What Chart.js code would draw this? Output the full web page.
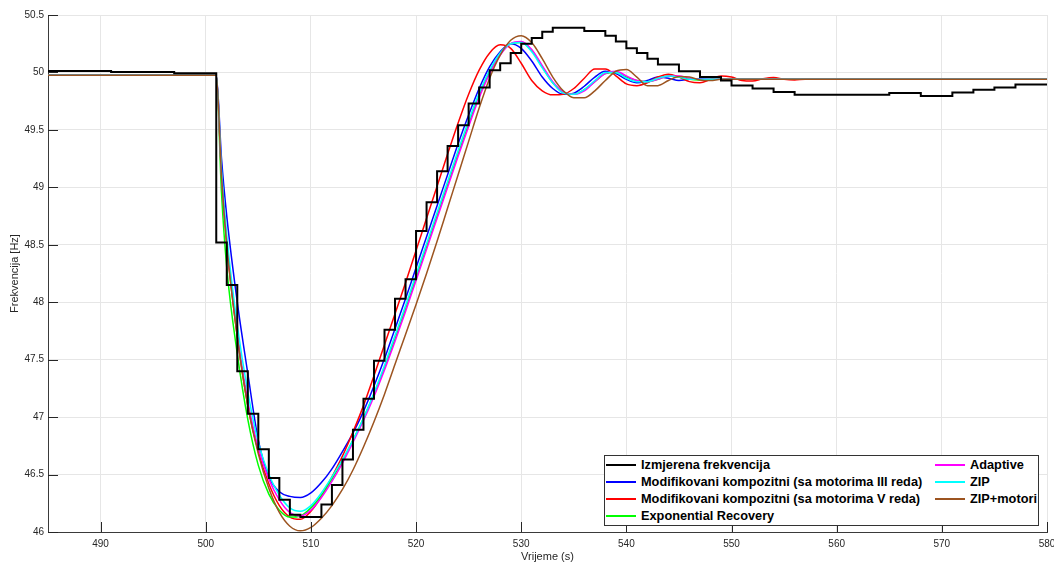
<!DOCTYPE html>
<html>
<head>
<meta charset="utf-8">
<script src="https://cdn.jsdelivr.net/npm/chart.js@4.4.1/dist/chart.umd.min.js"></script>
<style>
html,body{margin:0;padding:0;background:#fff;}
#wrap{position:relative;width:1054px;height:566px;overflow:hidden;background:#fff;}
#c{position:absolute;left:0;top:0;}
#legend{position:absolute;left:604px;top:455px;width:433px;height:69px;border:1px solid #333;background:#fff;}
.item{position:absolute;height:14px;font:bold 12.75px "Liberation Sans",Arial,sans-serif;color:#000;white-space:nowrap;}
.sw{position:absolute;left:0;width:30px;}
.tx{position:absolute;left:35px;top:0;line-height:14px;}
</style>
</head>
<body>
<div id="wrap">
<canvas id="c" width="1054" height="566"></canvas>
<div id="legend"></div>
</div>
<script>
// ---------- DATA ----------
const xTickValues = [490, 500, 510, 520, 530, 540, 550, 560, 570, 580];
const yTickValues = [46, 46.5, 47, 47.5, 48, 48.5, 49, 49.5, 50, 50.5];

const seriesLabels = [
  'Izmjerena frekvencija',
  'Modifikovani kompozitni (sa motorima III reda)',
  'Modifikovani kompozitni (sa motorima V reda)',
  'Exponential Recovery',
  'Adaptive',
  'ZIP',
  'ZIP+motori'
];
const seriesColors = ['#000000', '#0000ff', '#ff0000', '#00ff00', '#ff00ff', '#00ffff', '#9c5420'];

// measured frequency (step changes: value holds from time until next time)
const measTimes = [485, 491, 497,
  501, 502, 503, 504, 505, 506, 507, 508, 509,
  511, 512, 513, 514, 515, 516, 517, 518, 519, 520, 521, 522, 523, 524, 525, 526, 527, 528, 529, 530, 531, 532, 533,
  536, 538,
  539, 540, 541, 542, 543,
  545, 547, 549, 550, 552, 554, 556,
  565, 568, 571, 573, 575, 577, 580];
const measValues = [50.012, 50.004, 49.994,
  48.52, 48.15, 47.40, 47.03, 46.72, 46.47, 46.28, 46.15, 46.13,
  46.24, 46.41, 46.63, 46.89, 47.16, 47.49, 47.76, 48.03, 48.20, 48.62, 48.87, 49.14, 49.36, 49.54, 49.73, 49.87, 50.02, 50.08, 50.17, 50.25, 50.30, 50.355, 50.39,
  50.36, 50.32,
  50.27, 50.21, 50.17, 50.12, 50.07,
  50.01, 49.96, 49.93, 49.886, 49.86, 49.83, 49.805,
  49.82, 49.796, 49.825, 49.85, 49.87, 49.895, 49.895];

// simulated responses (common time grid)
const modelTimes = [485, 500, 501, 501.5, 502,
  503, 504, 505, 506, 507, 508, 509, 510, 511, 512,
  513, 514, 515, 516, 517, 518, 519, 520, 521, 522,
  523, 524, 525, 526, 527, 528, 529, 530, 531, 532,
  533, 534, 535, 536, 537, 538, 539, 540, 541, 542,
  543, 544, 545, 546, 547, 548, 549, 550, 551, 552,
  553, 554, 555, 556, 557, 558,
  580];

const modIII = [49.975, 49.975, 49.975, 49.25, 48.75,
  48.00, 47.38, 46.80, 46.48, 46.35, 46.31, 46.30, 46.34, 46.43, 46.55,
  46.70, 46.86, 47.05, 47.27, 47.51, 47.77, 48.03, 48.30, 48.57, 48.84,
  49.11, 49.38, 49.63, 49.86, 50.05, 50.18, 50.25, 50.21, 50.10, 49.96,
  49.86, 49.81, 49.82, 49.88, 49.96, 50.01, 49.99, 49.94, 49.91, 49.93,
  49.96, 49.95, 49.93, 49.94, 49.945, 49.94, 49.94, 49.94, 49.94, 49.94,
  49.94, 49.94, 49.94, 49.94, 49.94, 49.94,
  49.94];

const modV = [49.975, 49.975, 49.975, 49.10, 48.50,
  47.70, 47.10, 46.70, 46.42, 46.23, 46.13, 46.11, 46.18, 46.31, 46.48,
  46.66, 46.87, 47.10, 47.36, 47.63, 47.90, 48.17, 48.45, 48.73, 49.01,
  49.29, 49.56, 49.81, 50.02, 50.17, 50.24, 50.21, 50.08, 49.93, 49.84,
  49.805, 49.81, 49.86, 49.95, 50.03, 50.03, 49.97, 49.90, 49.885, 49.91,
  49.96, 49.985, 49.96, 49.92, 49.91, 49.94, 49.97, 49.96, 49.93, 49.925,
  49.945, 49.955, 49.94, 49.935, 49.94, 49.94,
  49.94];

const expRecovery = [49.975, 49.975, 49.975, 48.95, 48.30,
  47.55, 46.98, 46.58, 46.33, 46.19, 46.13, 46.14, 46.21, 46.32, 46.46,
  46.62, 46.80, 46.99, 47.20, 47.43, 47.68, 47.94, 48.21, 48.48, 48.75,
  49.02, 49.29, 49.55, 49.80, 50.00, 50.16, 50.25, 50.26, 50.19, 50.05,
  49.91, 49.83, 49.81, 49.85, 49.92, 49.99, 50.00, 49.96, 49.93, 49.92,
  49.94, 49.97, 49.96, 49.94, 49.935, 49.94, 49.94, 49.94, 49.94, 49.94,
  49.94, 49.94, 49.94, 49.94, 49.94, 49.94,
  49.94];

const adaptive = [49.975, 49.975, 49.975, 49.10, 48.52,
  47.73, 47.14, 46.73, 46.46, 46.28, 46.17, 46.14, 46.19, 46.30, 46.44,
  46.60, 46.78, 46.97, 47.18, 47.41, 47.66, 47.92, 48.19, 48.46, 48.73,
  49.00, 49.27, 49.53, 49.78, 49.99, 50.15, 50.25, 50.27, 50.20, 50.06,
  49.92, 49.83, 49.81, 49.84, 49.92, 49.99, 50.01, 49.97, 49.93, 49.92,
  49.94, 49.97, 49.97, 49.95, 49.94, 49.94, 49.94, 49.94, 49.94, 49.94,
  49.94, 49.94, 49.94, 49.94, 49.94, 49.94,
  49.94];

const zip = [49.975, 49.975, 49.975, 49.15, 48.58,
  47.80, 47.22, 46.78, 46.50, 46.32, 46.21, 46.18, 46.23, 46.34, 46.48,
  46.63, 46.80, 46.99, 47.21, 47.45, 47.71, 47.97, 48.24, 48.51, 48.78,
  49.05, 49.32, 49.58, 49.82, 50.02, 50.17, 50.25, 50.26, 50.18, 50.04,
  49.91, 49.82, 49.81, 49.85, 49.93, 50.00, 50.00, 49.95, 49.92, 49.92,
  49.95, 49.97, 49.96, 49.94, 49.94, 49.94, 49.94, 49.94, 49.94, 49.94,
  49.94, 49.94, 49.94, 49.94, 49.94, 49.94,
  49.94];

const zipMotori = [49.975, 49.975, 49.975, 49.10, 48.50,
  47.70, 47.10, 46.68, 46.38, 46.17, 46.05, 46.01, 46.04, 46.12, 46.23,
  46.37, 46.54, 46.74, 46.96, 47.20, 47.46, 47.72, 47.98, 48.25, 48.53,
  48.82, 49.11, 49.40, 49.69, 49.95, 50.15, 50.28, 50.32, 50.26, 50.12,
  49.96, 49.84, 49.78, 49.78, 49.84, 49.93, 50.01, 50.025, 49.96, 49.885,
  49.885, 49.93, 49.965, 49.96, 49.935, 49.93, 49.94, 49.94, 49.94, 49.94,
  49.94, 49.94, 49.94, 49.94, 49.94, 49.94,
  49.94];

// ---------- CHART ----------
const FONT = '"Liberation Sans", Arial, Helvetica, sans-serif';
Chart.defaults.font.family = FONT;

const toPts = (xs, ys) => xs.map((x, i) => ({x: x, y: ys[i]}));
const modelSeries = [modIII, modV, expRecovery, adaptive, zip, zipMotori];
const modelOrder = [6, 5, 4, 3, 2, 1];

const datasets = [{
  label: seriesLabels[0],
  data: toPts(measTimes, measValues),
  borderColor: seriesColors[0],
  borderWidth: 2,
  stepped: 'before',
  pointRadius: 0,
  fill: false,
  order: 0
}];
modelSeries.forEach((vals, i) => {
  datasets.push({
    label: seriesLabels[i + 1],
    data: toPts(modelTimes, vals),
    borderColor: seriesColors[i + 1],
    borderWidth: 1.5,
    cubicInterpolationMode: 'monotone',
    pointRadius: 0,
    fill: false,
    order: modelOrder[i]
  });
});

const innerTicks = {
  id: 'innerTicks',
  afterDatasetsDraw(chart) {
    const {ctx, chartArea: a, scales: {x, y}} = chart;
    ctx.save();
    ctx.strokeStyle = '#262626';
    ctx.lineWidth = 1;
    ctx.beginPath();
    y.ticks.forEach(t => {
      const py = Math.round(y.getPixelForValue(t.value)) + 0.5;
      ctx.moveTo(a.left, py); ctx.lineTo(a.left + 10, py);
    });
    x.ticks.forEach(t => {
      const px = Math.round(x.getPixelForValue(t.value)) + 0.5;
      ctx.moveTo(px, a.bottom); ctx.lineTo(px, a.bottom - 10);
    });
    ctx.stroke();
    ctx.restore();
  }
};

new Chart(document.getElementById('c'), {
  type: 'line',
  data: {datasets: datasets},
  options: {
    responsive: false,
    animation: false,
    devicePixelRatio: 1,
    layout: {padding: {left: 0, right: 7, top: 15, bottom: 0}},
    plugins: {legend: {display: false}, tooltip: {enabled: false}},
    elements: {line: {borderJoinStyle: 'miter'}},
    scales: {
      x: {
        type: 'linear',
        min: 485, max: 580,
        afterBuildTicks: s => { s.ticks = xTickValues.map(v => ({value: v})); },
        afterFit: s => { s.height = 34; s.paddingLeft = 0; s.paddingRight = 0; },
        grid: {color: '#e6e6e6', lineWidth: 1, drawTicks: false},
        border: {display: true, color: '#3a3a3a', width: 1},
        ticks: {color: '#262626', font: {size: 10}, padding: 6, maxRotation: 0, autoSkip: false,
                callback: v => String(v)},
        title: {display: true, text: 'Vrijeme (s)', color: '#262626', font: {size: 11}, padding: {top: 0, bottom: 2}}
      },
      y: {
        type: 'linear',
        min: 46, max: 50.5,
        afterBuildTicks: s => { s.ticks = yTickValues.map(v => ({value: v})); },
        afterFit: s => { s.width = 48; s.paddingTop = 0; s.paddingBottom = 0; },
        grid: {color: '#e6e6e6', lineWidth: 1, drawTicks: false},
        border: {display: true, color: '#3a3a3a', width: 1},
        ticks: {color: '#262626', font: {size: 10}, padding: 4, autoSkip: false,
                callback: v => String(v)},
        title: {display: true, text: 'Frekvencija [Hz]', color: '#262626', font: {size: 11}, padding: {top: 8, bottom: 0}}
      }
    }
  },
  plugins: [innerTicks]
});

// ---------- LEGEND (two columns, inside the plot) ----------
const legendSlots = [[1, 2], [1, 19], [1, 36], [1, 53], [330, 2], [330, 19], [330, 36]];
const legend = document.getElementById('legend');
seriesLabels.forEach((lab, i) => {
  const it = document.createElement('div');
  it.className = 'item';
  it.style.left = legendSlots[i][0] + 'px';
  it.style.top = legendSlots[i][1] + 'px';
  const sw = document.createElement('div');
  sw.className = 'sw';
  sw.style.top = '6px';
  sw.style.height = '2px';
  sw.style.background = seriesColors[i];
  const tx = document.createElement('span');
  tx.className = 'tx';
  tx.textContent = lab;
  it.appendChild(sw); it.appendChild(tx);
  legend.appendChild(it);
});
</script>
</body>
</html>
